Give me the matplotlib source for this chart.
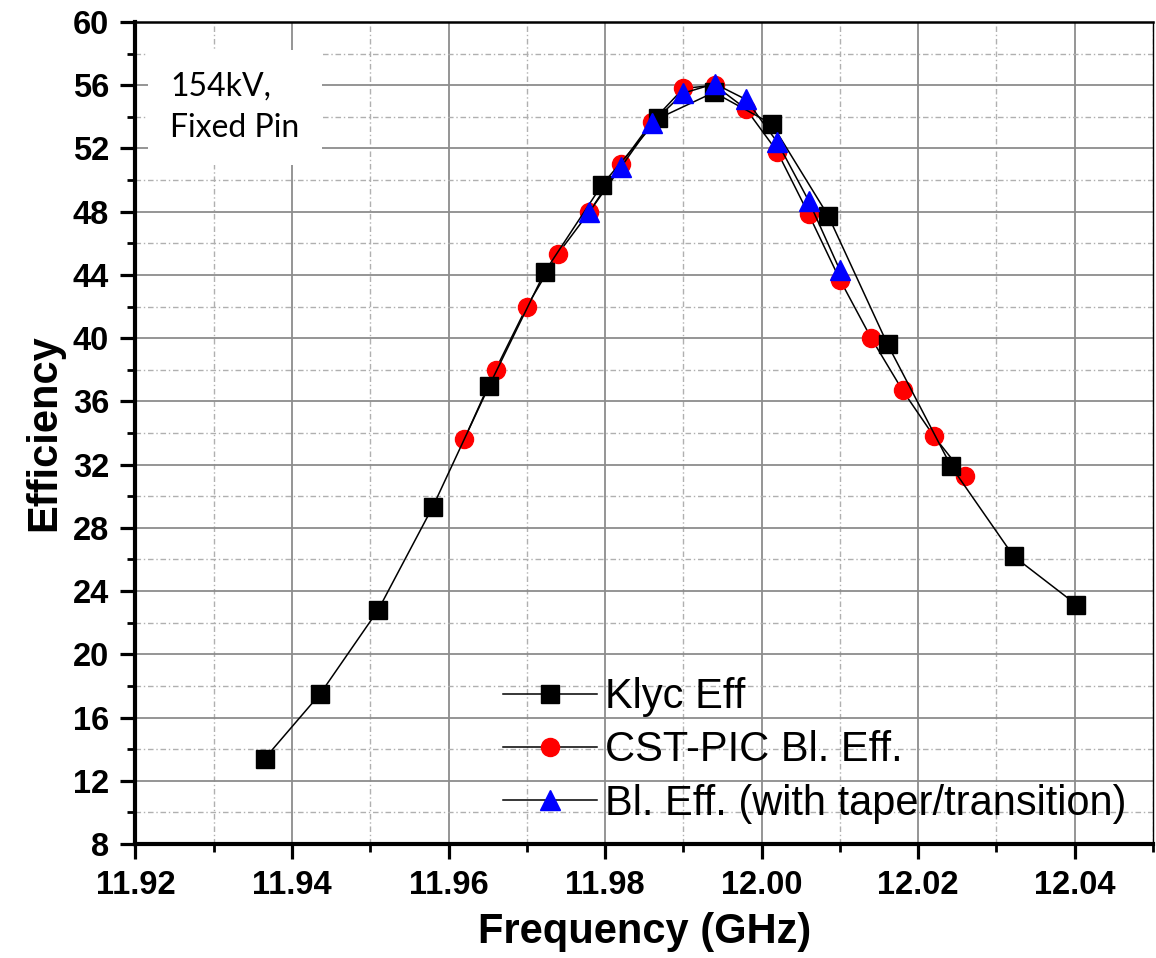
import matplotlib
matplotlib.use("Agg")
import matplotlib.pyplot as plt
from matplotlib.ticker import MultipleLocator, FormatStrFormatter

# Klystron code efficiency
klyc_freq = [11.9365, 11.9436, 11.9510, 11.9580, 11.9652, 11.9723, 11.9796, 11.9868,
             11.9939, 12.0013, 12.0085, 12.0161, 12.0242, 12.0322, 12.0402]
klyc_eff = [13.4, 17.5, 22.8, 29.35, 37.0, 44.2, 49.7, 53.9,
            55.55, 53.55, 47.75, 39.6, 31.9, 26.2, 23.15]

# CST particle-in-cell beam efficiency
pic_freq = [11.962, 11.966, 11.970, 11.974, 11.978, 11.982, 11.986, 11.990, 11.994,
            11.998, 12.002, 12.006, 12.010, 12.014, 12.018, 12.022, 12.026]
pic_eff = [33.6, 38.0, 42.0, 45.35, 48.0, 51.0, 53.7, 55.8, 56.0,
           54.5, 51.8, 47.85, 43.7, 40.0, 36.7, 33.8, 31.3]

# Beam efficiency including taper / transition
taper_freq = [11.978, 11.982, 11.986, 11.990, 11.994, 11.998, 12.002, 12.006, 12.010]
taper_eff = [48.0, 50.8, 53.6, 55.5, 56.1, 55.1, 52.4, 48.7, 44.3]

labels = ["Klyc Eff", "CST-PIC Bl. Eff.", "Bl. Eff. (with taper/transition)"]
x_ticks = [11.92, 11.94, 11.96, 11.98, 12.00, 12.02, 12.04]

plt.rcParams["font.family"] = ["Liberation Sans", "DejaVu Sans"]

fig = plt.figure(figsize=(11.56, 9.58), dpi=100)
ax = fig.add_axes([0.1172, 0.119, 0.8802, 0.858])

ax.set_xlim(11.92, 12.05)
ax.set_ylim(8, 60)
ax.set_xticks(x_ticks)
ax.xaxis.set_major_formatter(FormatStrFormatter("%.2f"))
ax.xaxis.set_minor_locator(MultipleLocator(0.01))
ax.yaxis.set_major_locator(MultipleLocator(4))
ax.yaxis.set_minor_locator(MultipleLocator(2))

# grid: solid majors, dash-dot minors
ax.grid(which="major", color="#8c8c8c", linewidth=1.3, linestyle="-", zorder=0)
ax.grid(which="minor", color="#b0b0b0", linewidth=1.0, linestyle=(0, (4, 2, 1, 2)), zorder=0)
ax.set_axisbelow(True)

ax.plot(pic_freq, pic_eff, color="black", linewidth=1.1, marker="o",
        markersize=13, markerfacecolor="red", markeredgecolor="red",
        label=labels[1], zorder=3)
ax.plot(klyc_freq, klyc_eff, color="black", linewidth=1.1, marker="s",
        markersize=13, markerfacecolor="black", markeredgecolor="black",
        label=labels[0], zorder=4)
ax.plot(taper_freq, taper_eff, color="black", linewidth=1.1, marker="^",
        markersize=15, markerfacecolor="blue", markeredgecolor="blue",
        label=labels[2], zorder=5)

# spines and ticks
for side in ("left", "bottom"):
    ax.spines[side].set_linewidth(3.0)
ax.spines["top"].set_linewidth(1.8)
ax.spines["right"].set_linewidth(1.0)
ax.tick_params(which="major", direction="out", length=11, width=2.3,
               labelsize=23.5, pad=8, top=False, right=False)
ax.tick_params(which="minor", direction="out", length=5.5, width=2.0,
               top=False, right=False)
for lab in ax.get_xticklabels() + ax.get_yticklabels():
    lab.set_fontweight("bold")

ax.set_xlabel("Frequency (GHz)", fontsize=30, fontweight="bold", labelpad=8)
ax.set_ylabel("Efficiency", fontsize=30, fontweight="bold", labelpad=6)

# legend in the order Klyc, CST-PIC, taper
handles, hl = ax.get_legend_handles_labels()
order = [hl.index(l) for l in labels]
ax.legend([handles[i] for i in order], [hl[i] for i in order],
          loc="upper left", bbox_to_anchor=(0.361, 0.203), frameon=False,
          fontsize=30, handlelength=2.25, handletextpad=0.2,
          labelspacing=0.32, borderpad=0, borderaxespad=0)

ax.text(170 / 1156, 1 - 72 / 958, "154kV,\nFixed Pin", transform=fig.transFigure,
        fontsize=23, family=["Lato", "DejaVu Sans"], va="top", ha="left",
        linespacing=1.45,
        bbox=dict(boxstyle="square,pad=0.7", facecolor="white", edgecolor="none"),
        zorder=6)

fig.savefig("out.png", dpi=100)
